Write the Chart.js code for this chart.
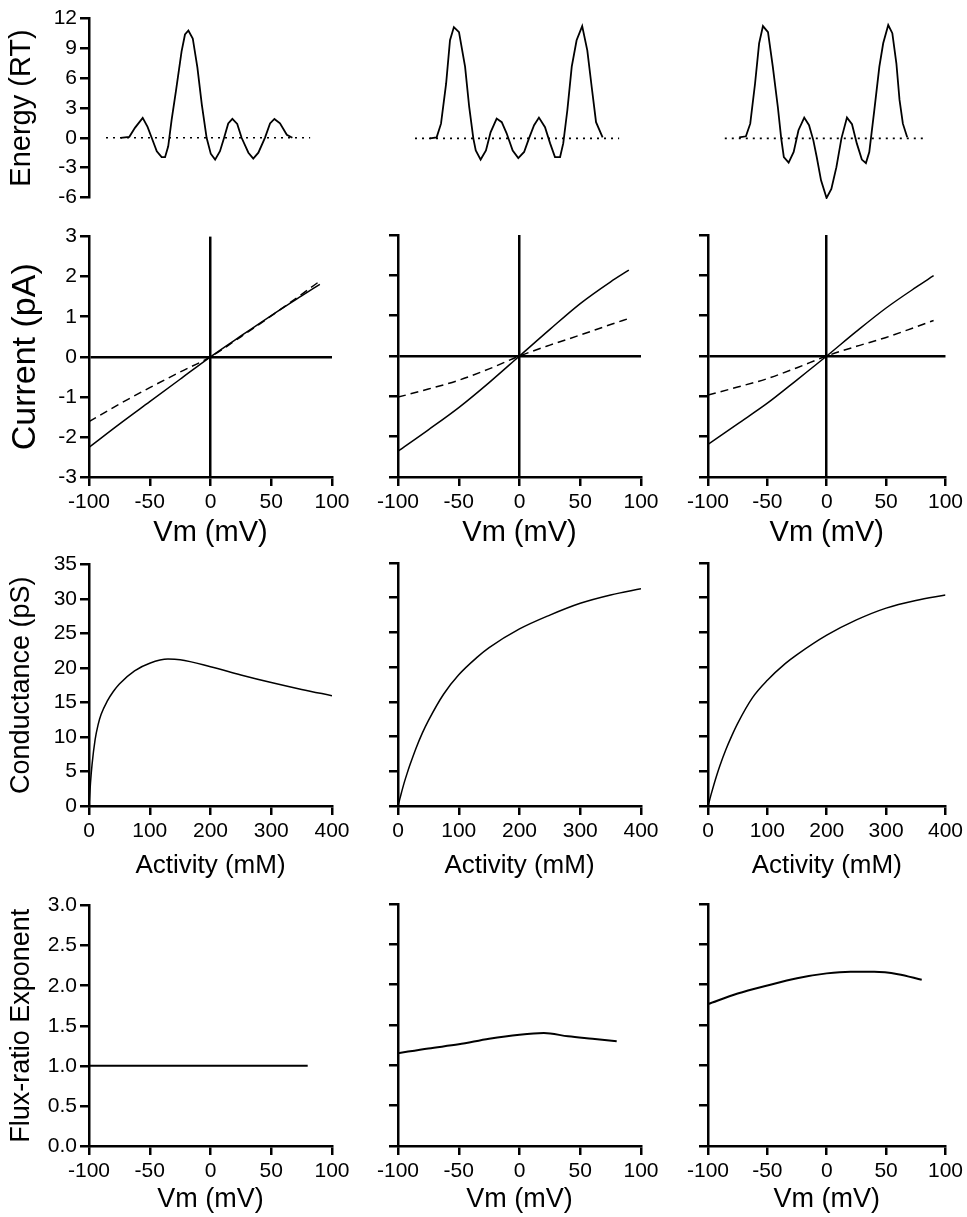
<!DOCTYPE html>
<html>
<head>
<meta charset="utf-8">
<script src="https://cdn.jsdelivr.net/npm/chart.js@4.4.0/dist/chart.umd.min.js"></script>
<style>
html, body { margin: 0; padding: 0; background: #fff; overflow: hidden; }
#wrap { position: relative; width: 967px; height: 1217px; }
canvas { position: absolute; }
</style>
</head>
<body>
<div id="wrap"></div>
<script>
// ---- energy profiles (position across the pore, 0-100) ----
var basePos = [7, 91];
var baseVal = [0, 0];

var energyPos1 = [13.0, 16.6, 18.9, 22.1, 24.1, 25.8, 27.9, 29.9, 31.3, 32.6, 34.0, 35.8, 38.1, 39.5, 40.9, 42.7, 44.6, 46.4, 48.4, 50.1, 51.9, 53.9, 55.6, 57.3, 59.0, 61.0, 62.8, 65.6, 67.6, 69.7, 72.4, 74.5, 76.3, 78.6, 81.4, 83.7];
var energyVal1 = [0, 0.1, 1.0, 2.0, 1.1, 0, -1.35, -1.95, -1.95, -0.85, 1.8, 4.75, 8.7, 10.4, 10.8, 10.0, 7.1, 3.4, 0, -1.6, -2.2, -1.35, 0, 1.45, 1.9, 1.4, 0, -1.5, -2.1, -1.5, 0, 1.45, 1.9, 1.45, 0.3, 0];

var energyPos2 = [13.2, 15.9, 17.7, 19.8, 21.4, 23.0, 25.1, 27.6, 29.3, 31.0, 32.0, 34.0, 36.2, 38.1, 40.6, 42.7, 44.7, 47.2, 49.5, 51.9, 53.9, 56.0, 58.0, 60.5, 62.6, 64.6, 66.7, 68.0, 69.7, 71.5, 73.5, 75.8, 77.9, 79.7, 81.5, 84.2];
var energyVal2 = [0, 0.1, 1.45, 5.4, 9.7, 11.0, 10.5, 7.1, 3.1, 0, -1.2, -2.1, -1.2, 0.6, 1.95, 1.6, 0.5, -1.2, -1.95, -1.35, 0, 1.3, 2.05, 1.1, -0.5, -1.85, -1.85, -0.5, 2.8, 7.1, 9.7, 11.1, 8.7, 5.1, 1.6, 0.1];

var energyPos3 = [13.0, 15.8, 17.6, 19.6, 21.3, 22.9, 25.0, 27.0, 29.1, 30.5, 31.6, 33.6, 35.7, 37.7, 40.1, 42.1, 43.9, 45.3, 47.1, 49.4, 51.4, 53.5, 55.6, 57.9, 60.0, 62.0, 64.1, 65.8, 67.2, 69.3, 71.4, 73.0, 75.1, 76.8, 78.5, 79.8, 81.2, 83.0];
var energyVal3 = [0.1, 0.2, 1.45, 5.4, 9.4, 11.1, 10.5, 7.1, 3.1, 0, -1.85, -2.4, -1.35, 0.8, 2.05, 1.3, -0.2, -1.85, -4.15, -5.9, -5.0, -2.85, 0, 2.05, 1.4, -0.5, -2.1, -2.45, -1.35, 2.8, 7.1, 9.4, 11.2, 10.4, 7.4, 3.8, 1.45, 0.1];

// ---- current-voltage ----
var vmIV = [-100, -75, -50, -25, 0, 25, 50, 75, 90];
var ivSolid1 = [-2.26, -1.68, -1.12, -0.56, 0, 0.52, 1.03, 1.52, 1.81];
var ivDash1 = [-1.62, -1.18, -0.77, -0.38, 0, 0.50, 1.02, 1.56, 1.89];
var ivSolid2 = [-2.36, -1.83, -1.28, -0.66, 0, 0.66, 1.30, 1.84, 2.13];
var ivDash2 = [-1.02, -0.82, -0.60, -0.32, 0, 0.27, 0.52, 0.78, 0.93];
var ivSolid3 = [-2.19, -1.68, -1.17, -0.59, 0, 0.61, 1.19, 1.70, 1.99];
var ivDash3 = [-0.97, -0.77, -0.56, -0.29, 0, 0.24, 0.46, 0.72, 0.88];

// ---- conductance-activity ----
var activity = [0, 2.5, 5, 10, 15, 20, 30, 40, 50, 75, 100, 130, 150, 200, 250, 300, 350, 400];
var cond1 = [0, 3.4, 6.0, 9.6, 11.8, 13.3, 15.2, 16.6, 17.7, 19.6, 20.7, 21.3, 21.2, 20.2, 19.0, 17.9, 16.9, 16.0];
var cond2 = [0, 0.85, 1.7, 3.3, 4.7, 6.0, 8.4, 10.5, 12.3, 16.1, 18.9, 21.4, 22.8, 25.5, 27.5, 29.2, 30.4, 31.3];
var cond3 = [0, 0.8, 1.6, 3.1, 4.5, 5.8, 8.1, 10.1, 11.9, 15.6, 18.1, 20.5, 21.8, 24.6, 26.8, 28.5, 29.6, 30.4];

// ---- flux-ratio exponent ----
var vmFlux = [-100, -75, -50, -25, 0, 20, 40, 60, 80];
var flux1 = [1.0, 1.0, 1.0, 1.0, 1.0, 1.0, 1.0, 1.0, 1.0];
var flux2 = [1.15, 1.21, 1.26, 1.33, 1.38, 1.40, 1.36, 1.33, 1.30];
var flux3 = [1.76, 1.89, 1.99, 2.08, 2.14, 2.16, 2.16, 2.13, 2.06];

Chart.defaults.font.family = '"Liberation Sans", Arial, Helvetica, sans-serif';
Chart.defaults.color = '#000';

// panel geometry
var YW = 88;
var PADT = 14;
var colLeft = [1, 310, 620];
var colPlotW = [243, 243, 240];
var colPadR = [25, 25, 19];
var rowTop = [17, 235, 563, 904];
var rowPlotH = [182, 242, 243, 242];
var rowXH = [0, 77, 79, 74];

var wrap = document.getElementById('wrap');

function pts(xs, ys) {
    return xs.map(function (x, i) { return {x: x, y: ys[i]}; });
}

function line(xs, ys, extra) {
    var d = {data: pts(xs, ys), borderColor: '#000', borderWidth: 1.6, pointRadius: 0, fill: false, tension: 0};
    for (var k in extra) d[k] = extra[k];
    return d;
}

function zeroGrid(c) {
    return c.tick && c.tick.value === 0 ? '#000' : 'rgba(0,0,0,0)';
}

function xAxis(row, min, max, step, title, size, zero) {
    return {
        type: 'linear', min: min, max: max,
        ticks: {stepSize: step, autoSkip: false, maxRotation: 0, font: {size: 21}, padding: 4, color: '#000'},
        border: {display: true, color: '#000', width: 2.5},
        grid: {drawOnChartArea: !!zero, color: zero ? zeroGrid : '#000', tickColor: '#000', tickLength: 9, lineWidth: 2.5},
        title: {display: true, text: title, font: {size: size}, color: '#000', padding: {top: 0, bottom: 4}},
        afterFit: function (s) { s.height = rowXH[row]; }
    };
}

function yAxis(min, max, step, title, size, labels, zero, fmt) {
    var ticks = {stepSize: step, display: labels, font: {size: 21}, padding: 3, color: '#000'};
    if (fmt) ticks.callback = fmt;
    return {
        type: 'linear', min: min, max: max,
        ticks: ticks,
        border: {display: true, color: '#000', width: 2.5},
        grid: {drawOnChartArea: !!zero, color: zero ? zeroGrid : '#000', tickColor: '#000', tickLength: 9, lineWidth: 2.5},
        title: {display: labels, text: title, font: {size: size}, color: '#000', padding: {top: 4, bottom: 0}},
        afterFit: function (s) { s.width = YW; }
    };
}

function panel(row, col, datasets, xs, ys) {
    var padB = row === 0 ? 14 : 0;
    var w = YW + colPlotW[col] + colPadR[col];
    var h = PADT + rowPlotH[row] + rowXH[row] + padB;
    var cv = document.createElement('canvas');
    cv.width = w;
    cv.height = h;
    cv.style.left = colLeft[col] + 'px';
    cv.style.top = (rowTop[row] - PADT) + 'px';
    cv.style.width = w + 'px';
    cv.style.height = h + 'px';
    wrap.appendChild(cv);
    new Chart(cv, {
        type: 'line',
        data: {datasets: datasets},
        options: {
            responsive: false,
            animation: false,
            events: [],
            layout: {padding: {top: PADT, right: colPadR[col], bottom: padB, left: ys.display === false ? YW : 0}},
            plugins: {legend: {display: false}, tooltip: {enabled: false}},
            scales: {x: xs, y: ys}
        }
    });
}

var dotted = {borderDash: [2, 5], borderWidth: 1.6};
var dashed = {borderDash: [8, 5], borderWidth: 1.5};
var smooth = {cubicInterpolationMode: 'monotone'};
var fixed1 = function (v) { return v.toFixed(1); };

// row 1: energy profiles
var energyPos = [energyPos1, energyPos2, energyPos3];
var energyVal = [energyVal1, energyVal2, energyVal3];
for (var c = 0; c < 3; c++) {
    panel(0, c,
        [line(basePos, baseVal, dotted), line(energyPos[c], energyVal[c], {borderWidth: 1.8})],
        {type: 'linear', min: 0, max: 100, display: false},
        c === 0 ? yAxis(-6, 12, 3, 'Energy (RT)', 29, true, false) : {type: 'linear', min: -6, max: 12, display: false});
}

// row 2: current-voltage
var ivSolid = [ivSolid1, ivSolid2, ivSolid3];
var ivDash = [ivDash1, ivDash2, ivDash3];
for (c = 0; c < 3; c++) {
    panel(1, c,
        [line(vmIV, ivDash[c], Object.assign({}, dashed, smooth)), line(vmIV, ivSolid[c], Object.assign({borderWidth: 1.5}, smooth))],
        xAxis(1, -100, 100, 50, 'Vm (mV)', 29, true),
        yAxis(-3, 3, 1, 'Current (pA)', 34, c === 0, true));
}

// row 3: conductance-activity
var cond = [cond1, cond2, cond3];
for (c = 0; c < 3; c++) {
    panel(2, c,
        [line(activity, cond[c], Object.assign({borderWidth: 1.5}, smooth))],
        xAxis(2, 0, 400, 100, 'Activity (mM)', 26, false),
        yAxis(0, 35, 5, 'Conductance (pS)', 27, c === 0, false));
}

// row 4: flux-ratio exponent
var flux = [flux1, flux2, flux3];
for (c = 0; c < 3; c++) {
    panel(3, c,
        [line(vmFlux, flux[c], Object.assign({borderWidth: 2}, smooth))],
        xAxis(3, -100, 100, 50, 'Vm (mV)', 27, false),
        yAxis(0, 3, 0.5, 'Flux-ratio Exponent', 27, c === 0, false, fixed1));
}
</script>
</body>
</html>
